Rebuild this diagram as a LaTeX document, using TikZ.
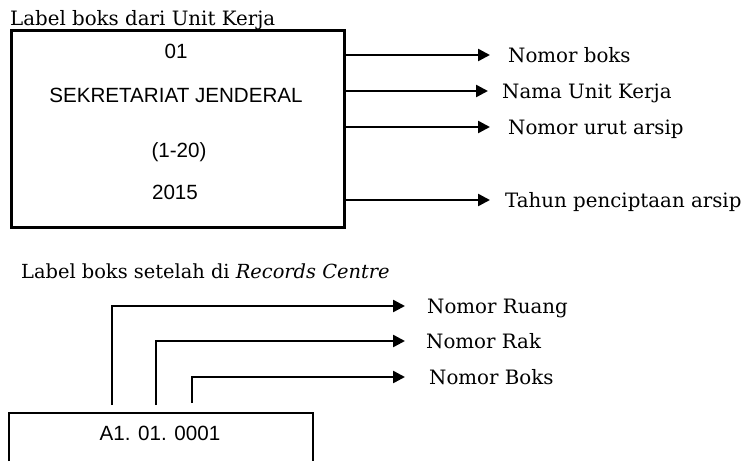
\documentclass[tikz,border=0pt]{standalone}
\usepackage{fontspec}
\setmainfont{DejaVu Serif}
\newfontfamily\sansf{Liberation Sans}
\usetikzlibrary{arrows.meta}
\begin{document}
\begin{tikzpicture}[x=1pt,y=-1pt,
  ln/.style={line width=2.5pt},
  arr/.style={ln,-{Triangle[length=12pt,width=12pt]}},
  lbl/.style={font=\fontsize{19.8}{23}\selectfont, text height=14.4pt, text depth=0pt, inner ysep=0pt, anchor=west},
  boxtxt/.style={font=\sansf\fontsize{20.6}{24}\selectfont, text height=14.75pt, text depth=0pt, inner sep=0pt},
  ttl/.style={font=\fontsize{19.8}{23}\selectfont, anchor=base west, inner sep=0pt}]
\useasboundingbox (0,0) rectangle (746,461);
% top part
\node[ttl] (t1) at (10,25) {Label boks dari Unit Kerja};
\node[draw, ln, anchor=north west, minimum width=333pt, minimum height=197pt, inner sep=0pt] (box1) at (10,29) {};
\node[boxtxt] (n01) at (176,51) {01};
\node[boxtxt] (nsek) at (176,95) {SEKRETARIAT JENDERAL};
\node[boxtxt] (nrng) at (179,150) {(1-20)};
\node[boxtxt] (nyr) at (175,192) {2015};
\node[lbl, inner xsep=18pt] (l1) at (490,55) {Nomor boks};
\node[lbl, inner xsep=14pt] (l2) at (488,91) {Nama Unit Kerja};
\node[lbl, inner xsep=18pt] (l3) at (490,127) {Nomor urut arsip};
\node[lbl, inner xsep=15pt] (l4) at (490,200) {Tahun penciptaan arsip};
\draw[arr] (box1.east |- l1.west) -- (l1.west);
\draw[arr] (box1.east |- l2.west) -- (l2.west);
\draw[arr] (box1.east |- l3.west) -- (l3.west);
\draw[arr] (box1.east |- l4.west) -- (l4.west);
% bottom part
\node[ttl, font=\fontsize{19.4}{23}\selectfont] (t2) at (21,278) {Label boks setelah di \textit{Records Centre}};
\coordinate (c1) at (112,405);
\coordinate (c2) at (156,405);
\coordinate (c3) at (192,403);
\node[lbl, inner xsep=22pt] (r1) at (405,306) {Nomor Ruang};
\node[lbl, inner xsep=21pt] (r2) at (405,341) {Nomor Rak};
\node[lbl, inner xsep=24pt] (r3) at (405,377) {Nomor Boks};
\draw[arr] (c1) |- (r1.west);
\draw[arr] (c2) |- (r2.west);
\draw[arr] (c3) |- (r3.west);
\coordinate (b1) at (9,461);
\coordinate (b2) at (313,461);
\draw[ln] (b1) -- (9,413) -- (313,413) -- (b2);
\node[boxtxt] (code) at (160,433) {A1. 01. 0001};
\end{tikzpicture}
\end{document}
